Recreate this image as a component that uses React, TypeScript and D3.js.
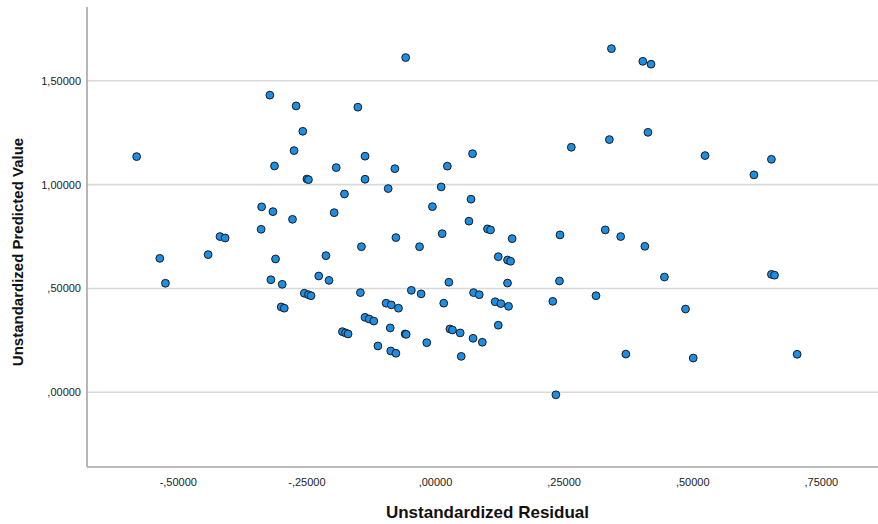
import * as d3 from 'd3';
import React from 'react';

// residuals (x) and predicted values (y)
const residual = [
  -0.581, -0.322, -0.271, -0.258, -0.275, -0.313, -0.338, -0.316, -0.278, -0.339,
  -0.419, -0.409, -0.536, -0.442, -0.311, -0.525, -0.320, -0.298, -0.300, -0.294,
  -0.058, -0.151, -0.137, 0.072, 0.264, -0.193, -0.079, 0.023, -0.250, -0.247,
  -0.137, 0.011, -0.092, -0.177, 0.069, -0.006, -0.197, 0.065, 0.101, 0.107,
  0.149, 0.242, -0.077, 0.013, -0.144, -0.031, 0.342, 0.403, 0.419, 0.338,
  0.413, 0.524, 0.653, 0.619, 0.330, 0.360, 0.407, 0.445, 0.653, 0.659,
  0.312, 0.486, 0.370, 0.501, 0.703, -0.213, -0.227, -0.207, -0.255, -0.247,
  -0.242, -0.146, -0.096, -0.086, -0.072, -0.047, -0.028, 0.026, 0.016, 0.074,
  0.085, 0.122, 0.140, 0.146, 0.140, 0.116, 0.127, 0.142, 0.122, 0.228,
  0.241, 0.234, -0.137, -0.129, -0.120, -0.181, -0.175, -0.170, -0.088, -0.059,
  -0.057, 0.028, 0.033, 0.048, -0.112, -0.017, -0.087, -0.077, 0.073, 0.091,
  0.050,
];
const predicted = [
  1.135, 1.431, 1.379, 1.257, 1.164, 1.090, 0.893, 0.870, 0.833, 0.785,
  0.750, 0.743, 0.645, 0.663, 0.642, 0.525, 0.542, 0.520, 0.411, 0.405,
  1.612, 1.373, 1.137, 1.149, 1.180, 1.082, 1.077, 1.089, 1.027, 1.024,
  1.026, 0.989, 0.981, 0.955, 0.930, 0.894, 0.865, 0.824, 0.787, 0.782,
  0.740, 0.758, 0.745, 0.764, 0.701, 0.701, 1.655, 1.594, 1.580, 1.217,
  1.252, 1.140, 1.122, 1.047, 0.782, 0.750, 0.703, 0.555, 0.568, 0.564,
  0.465, 0.401, 0.184, 0.165, 0.183, 0.658, 0.560, 0.539, 0.477, 0.470,
  0.465, 0.480, 0.429, 0.421, 0.405, 0.491, 0.474, 0.530, 0.429, 0.480,
  0.470, 0.653, 0.637, 0.631, 0.526, 0.436, 0.427, 0.414, 0.323, 0.438,
  0.536, -0.012, 0.361, 0.353, 0.343, 0.292, 0.286, 0.281, 0.310, 0.281,
  0.279, 0.305, 0.300, 0.286, 0.223, 0.239, 0.199, 0.188, 0.260, 0.241,
  0.173,
];

const xTicks = [-0.5, -0.25, 0, 0.25, 0.5, 0.75];
const yTicks = [0, 0.5, 1, 1.5];
const xDomain = [-0.6775, 0.8602];
const yDomain = [-0.3598, 1.8555];

const W = 878;
const H = 524;
const left = 87;
const right = 878;
const top = 7;
const bottom = 467;

// SPSS style: comma decimal, no leading zero
const fmt = (v: number) => {
  let s = d3.format('.5f')(Math.abs(v));
  if (s.startsWith('0.')) s = s.slice(1);
  s = s.replace('.', ',');
  return (v < 0 ? '-' : '') + s;
};

export default function App() {
  const x = d3.scaleLinear().domain(xDomain).range([left, right]);
  const y = d3.scaleLinear().domain(yDomain).range([bottom, top]);
  const pts = residual.map((r, i) => ({ r, p: predicted[i] }));

  return (
    <svg width={W} height={H} style={{ position: 'absolute', left: 0, top: 0, background: '#fff' }}
      fontFamily="Arial, 'Liberation Sans', sans-serif">
      {yTicks.map(t => (
        <g key={'y' + t}>
          <line x1={left} x2={right} y1={y(t)} y2={y(t)} stroke="#d9d9d9" strokeWidth={1.6} />
          <text x={81} y={y(t) + 4} textAnchor="end" fontSize={11} fill="#222">{fmt(t)}</text>
        </g>
      ))}
      {xTicks.map(t => (
        <text key={'x' + t} x={x(t)} y={485.5} textAnchor="middle" fontSize={11} fill="#222">{fmt(t)}</text>
      ))}
      <line x1={left} x2={left} y1={top} y2={bottom} stroke="#a6a6a6" strokeWidth={1.6} />
      <line x1={left} x2={right} y1={bottom} y2={bottom} stroke="#a6a6a6" strokeWidth={1.6} />
      {pts.map((d, i) => (
        <circle key={i} cx={x(d.r)} cy={y(d.p)} r={3.9} fill="#1b8ee6" stroke="#1a1a1a" strokeWidth={1} />
      ))}
      <text x={487.5} y={518} textAnchor="middle" fontSize={17} fontWeight="bold" fill="#111">Unstandardized Residual</text>
      <text transform={`translate(23,252) rotate(-90)`} textAnchor="middle" fontSize={15} fontWeight="bold" fill="#111">Unstandardized Predicted Value</text>
    </svg>
  );
}
